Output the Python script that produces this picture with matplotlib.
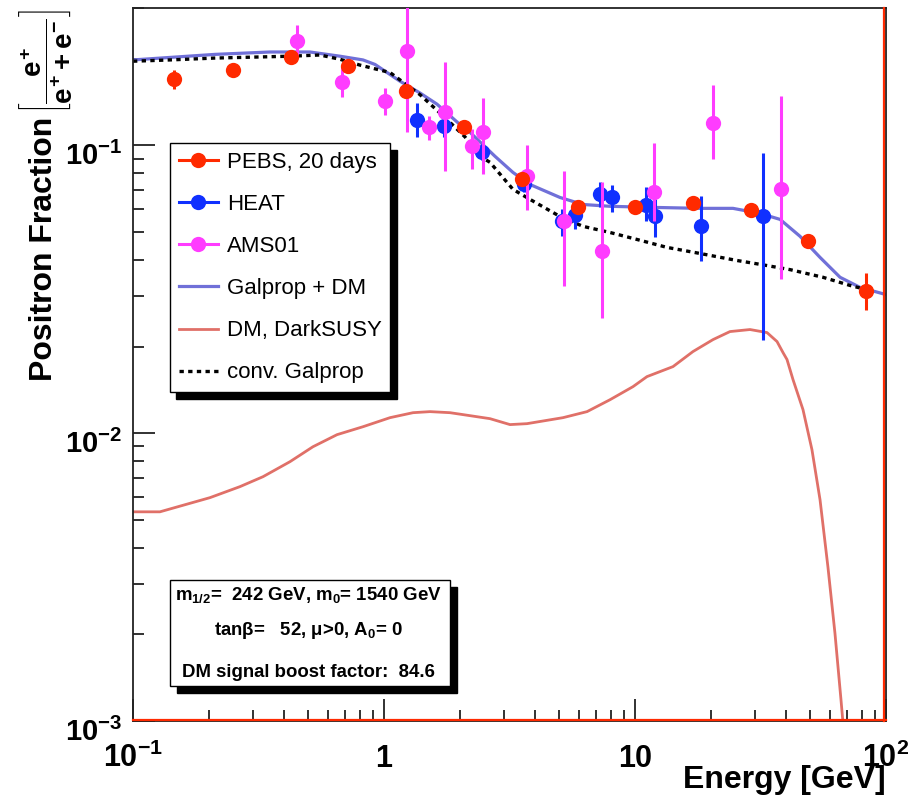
import matplotlib
matplotlib.use("Agg")
import matplotlib.pyplot as plt
from matplotlib.lines import Line2D
from matplotlib.patches import Rectangle
from matplotlib.transforms import ScaledTranslation
from matplotlib.ticker import FixedLocator, FixedFormatter, LogLocator, NullFormatter

plt.rcParams["font.family"] = ["Liberation Sans", "DejaVu Sans"]
plt.rcParams["mathtext.fontset"] = "custom"
plt.rcParams["mathtext.rm"] = "Liberation Sans:bold"
plt.rcParams["mathtext.it"] = "Liberation Sans:bold"
plt.rcParams["mathtext.bf"] = "Liberation Sans:bold"
plt.rcParams["mathtext.sf"] = "Liberation Sans:bold"

# ---- measurements ----
pebs_E = [0.146, 0.25, 0.426, 0.72, 1.22, 2.08, 3.55, 5.93, 10.0, 17.0, 29.0, 48.9, 83.2]
pebs_f = [0.170, 0.182, 0.202, 0.188, 0.155, 0.116, 0.0762, 0.0613, 0.0613, 0.0628, 0.0594, 0.0467, 0.0313]
pebs_err = [0.013, 0.005, 0.005, 0.005, 0.004, 0.003, 0.002, 0.0018, 0.0018, 0.0018, 0.0018, 0.0015, 0.0046]

heat_E = [1.35, 1.73, 2.46, 3.6, 5.12, 5.77, 7.26, 8.10, 11.1, 12.0, 18.3, 32.4]
heat_f = [0.122, 0.117, 0.0946, 0.0732, 0.0544, 0.0575, 0.0675, 0.0659, 0.0618, 0.0566, 0.0523, 0.0566]
heat_lo = [0.1067, 0.107, 0.089, 0.069, 0.0483, 0.0511, 0.061, 0.0585, 0.0544, 0.0479, 0.0395, 0.0211]
heat_hi = [0.140, 0.127, 0.101, 0.078, 0.0599, 0.0613, 0.0743, 0.0726, 0.0714, 0.0649, 0.0665, 0.0938]

ams_E = [0.45, 0.681, 1.01, 1.24, 1.51, 1.75, 2.24, 2.48, 3.71, 5.21, 7.39, 11.9, 20.5, 38.2]
ams_f = [0.230, 0.166, 0.142, 0.212, 0.116, 0.131, 0.0992, 0.111, 0.078, 0.0544, 0.0428, 0.0687, 0.120, 0.0703]
ams_lo = [0.203, 0.147, 0.127, 0.111, 0.104, 0.0812, 0.0825, 0.0792, 0.0594, 0.0324, 0.0252, 0.0544, 0.090, 0.0344]
ams_hi = [0.261, 0.188, 0.158, 0.34, 0.126, 0.194, 0.1137, 0.146, 0.100, 0.0812, 0.0743, 0.1016, 0.162, 0.148]

# ---- model curves ----
galdm_E = [0.1, 0.140, 0.212, 0.351, 0.507, 0.668, 0.825, 0.921, 1.158, 1.391, 1.626, 2.009, 2.201, 2.768,
           3.265, 3.817, 5.025, 6.206, 7.954, 11.47, 18.16, 24.57, 31.48, 37.83, 45.44, 54.6, 65.6, 78.8, 100]
galdm_f = [0.198, 0.202, 0.207, 0.211, 0.211, 0.204, 0.198, 0.191, 0.167, 0.152, 0.139, 0.118, 0.111, 0.0916,
           0.0805, 0.0731, 0.0659, 0.0623, 0.0614, 0.0609, 0.0604, 0.0604, 0.0580, 0.0553, 0.0483, 0.0408,
           0.0348, 0.0321, 0.0303]

gal_E = [0.1, 0.140, 0.212, 0.422, 0.556, 0.668, 0.802, 1.057, 1.391, 1.782, 2.102, 2.413, 2.644, 3.265,
         3.817, 5.025, 6.206, 7.954, 10.18, 13.41, 18.16, 25.5, 31.48, 41.45, 56.1, 71.9, 84.0]
gal_f = [0.196, 0.198, 0.201, 0.204, 0.206, 0.199, 0.190, 0.179, 0.150, 0.123, 0.107, 0.0916, 0.0873,
         0.0703, 0.0649, 0.0566, 0.0523, 0.0498, 0.0471, 0.0442, 0.0421, 0.0398, 0.0386, 0.0370, 0.0348,
         0.0326, 0.0315]

dm_E = [0.1, 0.128, 0.2026, 0.2668, 0.3296, 0.4221, 0.521, 0.6498, 0.825, 1.0566, 1.305, 1.525, 1.832,
        2.064, 2.644, 3.177, 3.713, 5.166, 6.44, 7.954, 9.82, 11.16, 14.17, 17.02, 20.46, 23.9, 28.72,
        33.57, 36.8, 38.88, 40.33, 42.61, 46.7, 50.7, 54.6, 58.7, 62.6, 66.2, 68.0]
dm_f = [0.00533, 0.00533, 0.00597, 0.00652, 0.00706, 0.00796, 0.00897, 0.00988, 0.01053, 0.01132, 0.01178,
        0.01188, 0.01178, 0.01160, 0.01123, 0.01071, 0.01079, 0.01132, 0.01188, 0.01307, 0.01451, 0.01572,
        0.01703, 0.01921, 0.02114, 0.02254, 0.02291, 0.02236, 0.02081, 0.01905, 0.01802, 0.01535, 0.01207,
        0.00876, 0.00587, 0.00343, 0.00202, 0.00118, 0.0009]

xtick_vals = [0.1, 1, 10, 100]
xtick_labels = [r"$10^{-1}$", r"$1$", r"$10$", r"$10^{2}$"]
ytick_vals = [1e-3, 1e-2, 1e-1]
ytick_labels = [r"$10^{-3}$", r"$10^{-2}$", r"$10^{-1}$"]

legend_labels = ["PEBS, 20 days", "HEAT", "AMS01", "Galprop + DM", "DM, DarkSUSY", "conv. Galprop"]
info_lines = [r"$\mathrm{m}_{1/2}$=  242 GeV, $\mathrm{m}_{0}$= 1540 GeV",
              r"tanβ=   52, μ>0, $\mathrm{A}_{0}$= 0",
              "DM signal boost factor:  84.6"]

C_PEBS = "#ff2a00"
C_HEAT = "#1030ff"
C_AMS = "#ff3cff"
C_GALDM = "#7070d8"
C_DM = "#e07068"

W, H = 910, 798


def fx(x):
    return x / W


def fy(y):
    return 1 - y / H


fig = plt.figure(figsize=(W / 100, H / 100), dpi=100)
ax = fig.add_axes([fx(133), fy(721), (886 - 133) / W, (721 - 8) / H])
ax.set_xscale("log")
ax.set_yscale("log")
ax.set_xlim(0.1, 100)
ax.set_ylim(1e-3, 0.3)

ax.plot(galdm_E, galdm_f, color=C_GALDM, lw=2.3, zorder=2)
ax.plot(dm_E, dm_f, color=C_DM, lw=2.0, zorder=2)
ax.plot(gal_E, gal_f, color="black", lw=2.4, ls=(0, (1.3, 1.3)), zorder=2.5)


def asym(f, lo, hi):
    return [[v - l for v, l in zip(f, lo)], [h - v for v, h in zip(f, hi)]]


ebkw = dict(fmt="o", ms=11, elinewidth=2.2, capsize=3, capthick=2, mew=0)
ax.errorbar(heat_E, heat_f, yerr=asym(heat_f, heat_lo, heat_hi), color=C_HEAT, zorder=3, **ebkw)
ax.errorbar(ams_E, ams_f, yerr=asym(ams_f, ams_lo, ams_hi), color=C_AMS, zorder=4, **ebkw)
ax.errorbar(pebs_E, pebs_f, yerr=pebs_err, color=C_PEBS, zorder=5, **ebkw)

# frame: ROOT-like, ticks inside on left/bottom only
for s in ax.spines.values():
    s.set_linewidth(1.3)
    s.set_color("#222222")
ax.plot([0, 1], [0.002, 0.002], transform=ax.transAxes, color="#ff2a00", lw=1.6, clip_on=False, zorder=6)
ax.plot([0.998, 0.998], [0, 1], transform=ax.transAxes, color="#ff2a00", lw=1.6, clip_on=False, zorder=6)

ax.xaxis.set_major_locator(FixedLocator(xtick_vals))
ax.xaxis.set_major_formatter(FixedFormatter(xtick_labels))
ax.yaxis.set_major_locator(FixedLocator(ytick_vals))
ax.yaxis.set_major_formatter(FixedFormatter(ytick_labels))
ax.xaxis.set_minor_locator(LogLocator(base=10, subs=range(2, 10)))
ax.yaxis.set_minor_locator(LogLocator(base=10, subs=range(2, 10)))
ax.xaxis.set_minor_formatter(NullFormatter())
ax.yaxis.set_minor_formatter(NullFormatter())
ax.tick_params(which="both", direction="in", top=False, right=False, width=1.3, color="#222222")
ax.tick_params(which="major", length=16)
ax.tick_params(which="minor", length=8)
ax.tick_params(axis="x", which="major", labelsize=22, pad=33)
ax.tick_params(axis="y", which="major", labelsize=21, pad=8)
for t in ax.xaxis.get_major_ticks():
    t.label1.set_verticalalignment("baseline")
ydrop = ScaledTranslation(0, -6 / 72, fig.dpi_scale_trans)
for t in ax.yaxis.get_major_ticks():
    t.label1.set_transform(t.label1.get_transform() + ydrop)

fig.text(fx(886), fy(788), "Energy [GeV]", ha="right", va="baseline", fontsize=23, fontweight="bold")
fig.text(fx(44), fy(117), "Positron Fraction", rotation=90, ha="center", va="top",
         fontsize=23, fontweight="bold")
fig.text(fx(45), fy(9), r"$\left[\dfrac{e^{+}}{e^{+}+e^{-}}\right]$", rotation=90,
         ha="center", va="top", fontsize=20)

handles = [
    Line2D([], [], color=C_PEBS, marker="o", ms=11, lw=2.2, mew=0),
    Line2D([], [], color=C_HEAT, marker="o", ms=11, lw=2.2, mew=0),
    Line2D([], [], color=C_AMS, marker="o", ms=11, lw=2.2, mew=0),
    Line2D([], [], color=C_GALDM, lw=2.3),
    Line2D([], [], color=C_DM, lw=2.0),
    Line2D([], [], color="black", lw=2.4, ls=(0, (1.3, 1.3))),
]
leg = ax.legend(handles, legend_labels, loc="upper left", bbox_to_anchor=(fx(170), fy(143)),
                bbox_transform=fig.transFigure, borderaxespad=0, fontsize=16, frameon=True,
                fancybox=False, edgecolor="black", framealpha=1, borderpad=0.4,
                labelspacing=0.95, handlelength=1.75, handletextpad=0.4,
                shadow={"color": "black", "alpha": 1, "ox": 4.5, "oy": -5})
leg.get_frame().set_linewidth(1.0)
leg.set_zorder(10)

# parameter box with drop shadow
bx0, bx1, by0, by1 = 170, 450, 580, 686
fig.add_artist(Rectangle((fx(bx0 + 7), fy(by1 + 7)), (bx1 - bx0) / W, (by1 - by0) / H,
                         transform=fig.transFigure, facecolor="black", edgecolor="black", zorder=9))
fig.add_artist(Rectangle((fx(bx0), fy(by1)), (bx1 - bx0) / W, (by1 - by0) / H,
                         transform=fig.transFigure, facecolor="white", edgecolor="black", lw=1.0, zorder=9.5))
for txt, yb in zip(info_lines, [600, 635, 677]):
    fig.text(fx(308), fy(yb), txt, ha="center", va="baseline", fontsize=13.4, fontweight="bold", zorder=10)

fig.savefig("out.png", dpi=100)
